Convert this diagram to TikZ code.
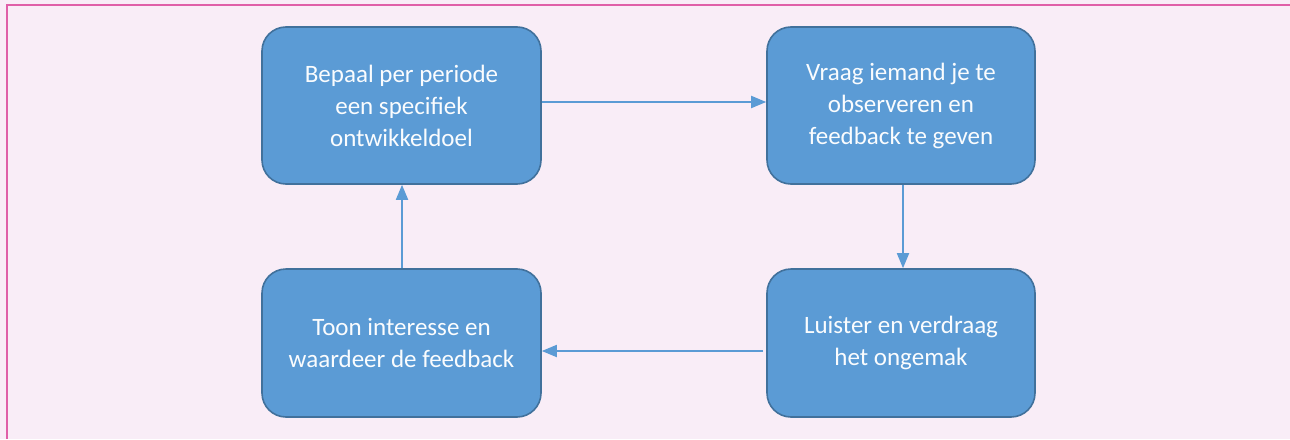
\documentclass[tikz,border=0pt]{standalone}
\usepackage{fontspec}
\setmainfont{Carlito}
\usetikzlibrary{arrows.meta,positioning}
\definecolor{stepblue}{HTML}{5B9BD5}
\definecolor{stepedge}{HTML}{41719C}
\definecolor{pagebg}{HTML}{F9EDF7}
\definecolor{framepink}{HTML}{E05FA8}
\tikzset{
  stepbox/.style={draw=stepedge, line width=1.6pt, fill=stepblue, rounded corners=24pt,
    text=white!97!stepblue, align=center, font=\fontsize{25}{32}\selectfont,
    inner sep=0pt},
  arrow/.style={draw=stepblue, line width=1.8pt, -{Triangle[length=15pt,width=12pt]}}
}

\begin{document}
\begin{tikzpicture}[x=1pt,y=-1pt]
\useasboundingbox (0,0) rectangle (1290,439);
\fill[pagebg] (0,0) rectangle (1290,439);
% frame
\draw[framepink, line width=2pt] (6.5,439) -- (6.5,5) -- (1290,5);

\node[stepbox, minimum width=279pt, minimum height=157pt] (doel) at (401.5,105.5)
  {Bepaal per periode\\een specifiek\\ontwikkeldoel};
\node[stepbox, minimum width=268pt, minimum height=157pt] (vraag) at (901,105.5)
  {Vraag iemand je te\\observeren en\\feedback te geven};
\node[stepbox, minimum width=268pt, minimum height=148pt] (luister) at (901,343)
  {Luister en verdraag\\het ongemak};
\node[stepbox, minimum width=279pt, minimum height=148pt] (toon) at (401.5,343)
  {Toon interesse en\\waardeer de feedback};

\draw[arrow] ([yshift=3.5pt]doel.east) -- ([yshift=3.5pt]vraag.west);
\draw[arrow] ([xshift=2pt]vraag.south) -- ([xshift=2pt]luister.north);
\draw[arrow] ([xshift=-3pt,yshift=-8pt]luister.west) -- ([yshift=-8pt]toon.east);
\draw[arrow] ([xshift=0.5pt]toon.north) -- ([xshift=0.5pt]doel.south);
\end{tikzpicture}
\end{document}
